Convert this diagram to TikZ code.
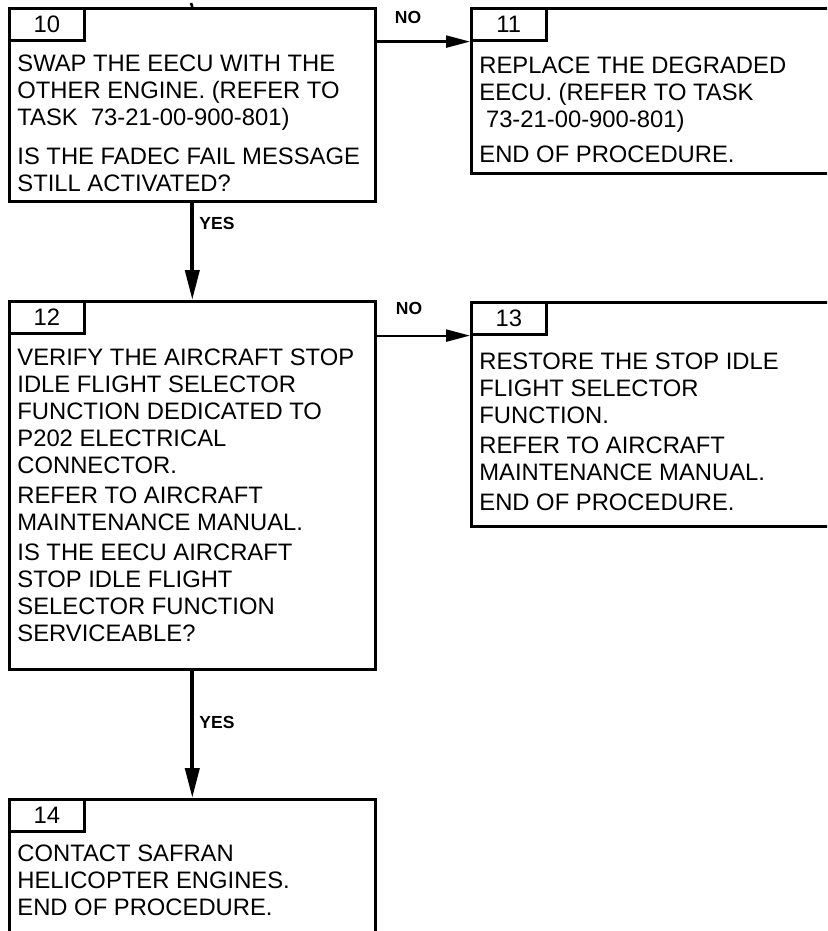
\documentclass[tikz,border=0pt]{standalone}
\usepackage{fontspec}
\setmainfont{Liberation Sans}
\usetikzlibrary{arrows.meta, calc}
\tikzstyle{stepbox} = [
    rectangle,
    anchor=north west,
    inner sep=0pt,
    line width=1.3pt,
    draw=black
]
\tikzstyle{numtab} = [
    rectangle,
    anchor=north west,
    inner sep=0pt,
    minimum width=37.5pt,
    minimum height=16pt,
    line width=1.3pt,
    draw=black,
    font=\fontsize{11.9}{13.5}\selectfont
]
\tikzstyle{steptext} = [
    anchor=north west,
    inner sep=0pt,
    align=left,
    font=\fontsize{11.9}{13.5}\selectfont
]
\tikzstyle{answer} = [font=\bfseries\fontsize{8.75}{10}\selectfont]
\tikzstyle{arrowdown} = [line width=2pt, -{Triangle[length=15pt,width=7pt]}]
\tikzstyle{arrowright} = [line width=1.1pt, -{Triangle[length=12pt,width=6pt]}]

\begin{document}
\begin{tikzpicture}[x=0.5pt, y=-0.5pt]

\useasboundingbox (0,0) rectangle (827,931);
\clip (0,0) rectangle (827,931);

\node (s10) [stepbox, minimum width=183pt, minimum height=96.5pt] at (8,7) {};
\node (t10) [numtab] at (s10.north west) {10};
\node (x10) [steptext] at ($(t10.south west)+(9,13)$)
{SWAP THE EECU WITH THE\\
OTHER ENGINE. (REFER TO\\
TASK\ \ 73-21-00-900-801)\\[6pt]
IS THE FADEC FAIL MESSAGE\\
STILL ACTIVATED?};

\node (s11) [stepbox, minimum width=185pt, minimum height=82.5pt] at (470,7) {};
\node (t11) [numtab] at (s11.north west) {11};
\node (x11) [steptext] at ($(t11.south west)+(9,15)$)
{REPLACE THE DEGRADED\\
EECU. (REFER TO TASK\\
\ 73-21-00-900-801)\\[4pt]
END OF PROCEDURE.};

\node (s12) [stepbox, minimum width=183pt, minimum height=184pt] at (8,300) {};
\node (t12) [numtab] at (s12.north west) {12};
\node (x12) [steptext] at ($(t12.south west)+(9,14)$)
{VERIFY THE AIRCRAFT STOP\\
IDLE FLIGHT SELECTOR\\
FUNCTION DEDICATED TO\\
P202 ELECTRICAL\\
CONNECTOR.\\[1.5pt]
REFER TO AIRCRAFT\\
MAINTENANCE MANUAL.\\[1.5pt]
IS THE EECU AIRCRAFT\\
STOP IDLE FLIGHT\\
SELECTOR FUNCTION\\
SERVICEABLE?};

\node (s13) [stepbox, minimum width=185pt, minimum height=112pt] at (470,301) {};
\node (t13) [numtab] at (s13.north west) {13};
\node (x13) [steptext] at ($(t13.south west)+(9,17)$)
{RESTORE THE STOP IDLE\\
FLIGHT SELECTOR\\
FUNCTION.\\[1.5pt]
REFER TO AIRCRAFT\\
MAINTENANCE MANUAL.\\[1.5pt]
END OF PROCEDURE.};

\node (s14) [stepbox, minimum width=183pt, minimum height=75pt] at (8,798) {};
\node (t14) [numtab] at (s14.north west) {14};
\node (x14) [steptext] at ($(t14.south west)+(9,12)$)
{CONTACT SAFRAN\\
HELICOPTER ENGINES.\\
END OF PROCEDURE.};

\coordinate (in10) at (191,3);
\draw [line width=1.3pt] (in10) -- (s10.north);

\draw [arrowright] (s10.east |- t11.south) -- (t11.south west);
\draw [arrowdown] (s10.south) -- (s12.north);
\draw [arrowright] (s12.east |- t13.south) -- (t13.south west);
\draw [arrowdown] (s12.south) -- (s14.north);

\node (no1) [answer] at (408,17) {NO};
\node (yes1) [answer] at (217,223) {YES};
\node (no2) [answer] at (409,308) {NO};
\node (yes2) [answer] at (217,722) {YES};

\end{tikzpicture}
\end{document}
